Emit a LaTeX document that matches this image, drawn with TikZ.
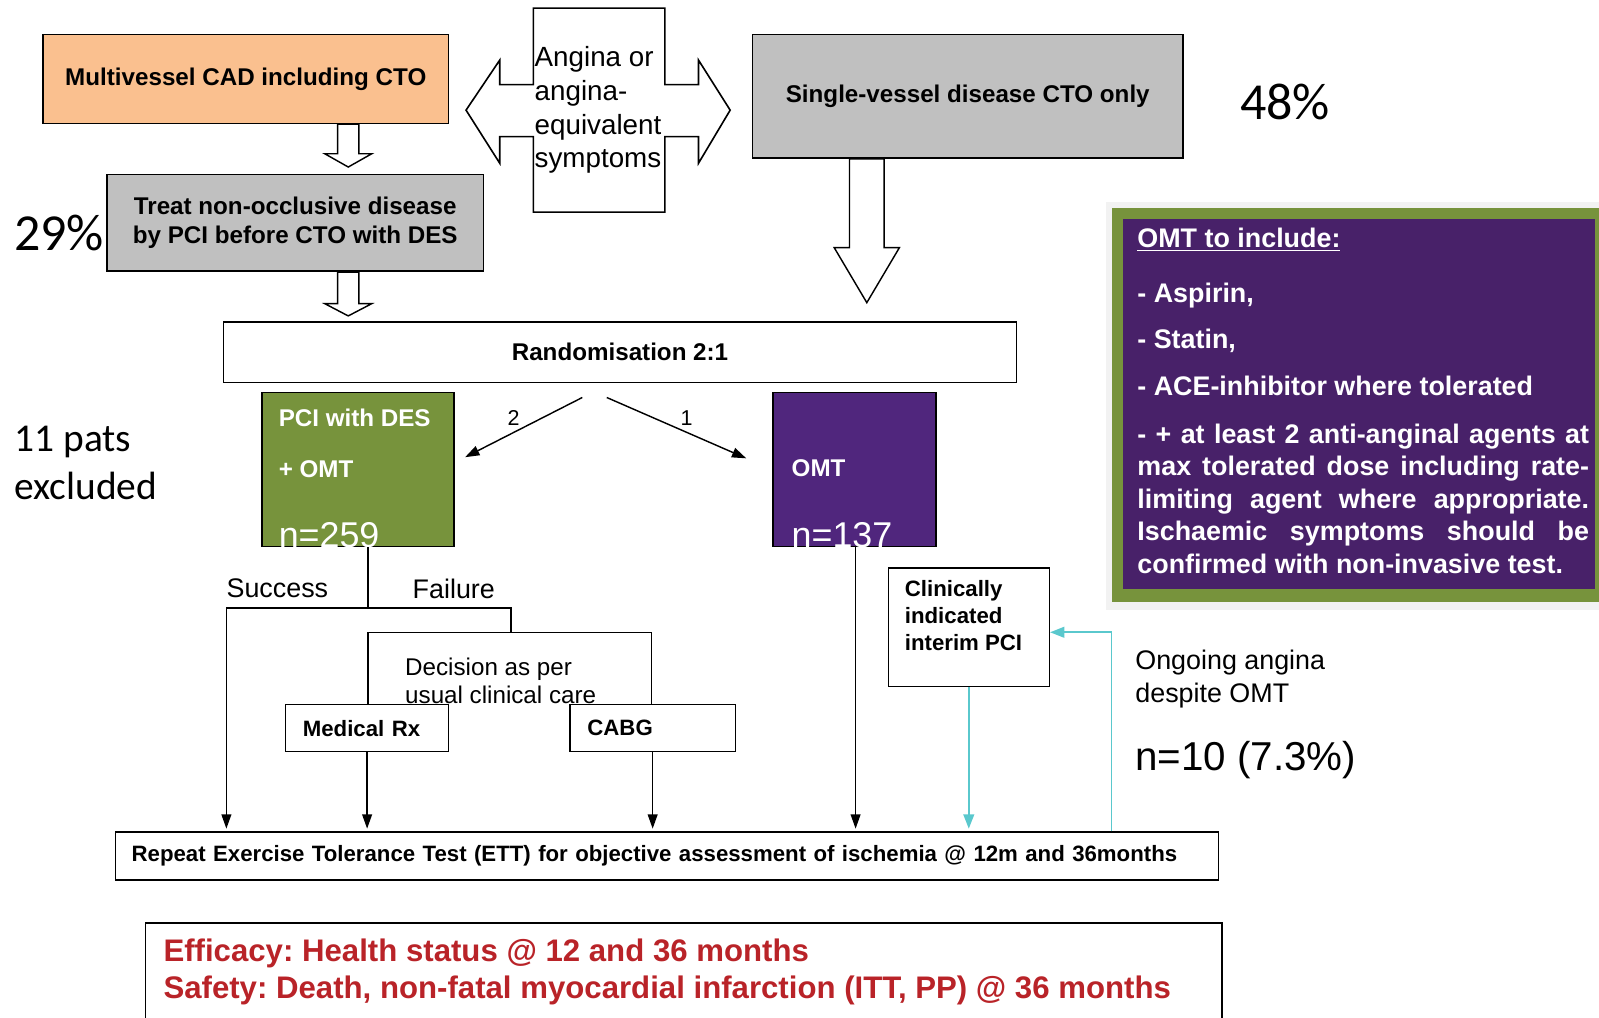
\documentclass[tikz,border=0pt]{standalone}
\usepackage{fontspec}
\setmainfont{Liberation Sans}
\newfontfamily\calfont{Carlito}
\frenchspacing
\definecolor{peach}{RGB}{250,192,143}
\definecolor{boxgray}{RGB}{192,192,192}
\definecolor{olive}{RGB}{119,147,60}
\definecolor{omtpurple}{RGB}{80,38,125}
\definecolor{infopurple}{RGB}{72,33,105}
\definecolor{loopcyan}{RGB}{90,200,205}
\definecolor{outred}{RGB}{185,35,40}
\usetikzlibrary{arrows.meta,calc}

\begin{document}
\begin{tikzpicture}[x=0.02cm,y=-0.02cm,
    box/.style={draw,line width=0.9pt,inner sep=0pt,font=\bfseries\fontsize{13.5}{16}\selectfont},
    small/.style={draw,line width=0.8pt,inner xsep=0.34cm,inner ysep=0pt,align=left,font=\bfseries\fontsize{12.4}{15}\selectfont},
    plain/.style={inner sep=0pt,font=\fontsize{15}{18.2}\selectfont},
    big/.style={inner sep=0pt,font=\calfont\fontsize{29}{32}\selectfont},
    wtxt/.style={text=white,inner sep=0pt,anchor=base west},
    info/.style={text=white,inner sep=0pt,font=\bfseries\fontsize{15}{18.2}\selectfont},
    outtxt/.style={text=outred,inner sep=0pt,anchor=base west,font=\bfseries\fontsize{17.4}{20}\selectfont},
    lbl/.style={inner sep=1pt,font=\fontsize{12}{14}\selectfont},
    conn/.style={line width=0.8pt},
    arr/.style={line width=0.8pt,-{Triangle[width=5.5pt,length=8pt]},shorten >=1.5pt},
    loop/.style={loopcyan,line width=1pt,-{Triangle[width=6pt,length=8pt]}},
    hollow/.style={draw,line width=0.8pt,fill=white}]
\useasboundingbox (0,0) rectangle (1568,998);
\clip (0,0) rectangle (1568,998);

% top row
\node[box,fill=peach,minimum width=7.96cm,minimum height=1.74cm] (multi) at (241,77.5) {Multivessel CAD including CTO};
\node[box,fill=boxgray,minimum width=7.38cm,minimum height=1.9cm,align=center] (treat) at (289.5,218.5) {Treat non-occlusive disease\\by PCI before CTO with DES};
\node[box,fill=boxgray,minimum width=8.44cm,minimum height=2.42cm] (single) at (949,94.5) {Single-vessel disease CTO only};
\node[big] (pct29) at (58,228) {29\%};
\node[big] (pct48) at (1260,100) {48\%};

% symptoms box with double arrow
\draw[line width=0.9pt,fill=white] (523,8) -- (652,8) -- (652,83) -- (685,83) -- (685,59) -- (716,108) -- (685,160) -- (685,134) -- (652,134) -- (652,208) -- (523,208) -- (523,134) -- (490,134) -- (490,160) -- (457,108) -- (490,59) -- (490,83) -- (523,83) -- cycle;
\node[plain,anchor=west,align=left,font=\fontsize{15.5}{18.8}\selectfont] (angina) at (524,108) {Angina or\\angina-\\equivalent\\symptoms};

% block arrows
\coordinate (a1) at (341.5,0);
\coordinate (a3) at (850,0);
\draw[hollow] (multi.south -| a1) ++(-10.5,0) -- ++(0,29) -- ++(-12.5,0) -- ++(23,13) -- ++(23,-13) -- ++(-12.5,0) -- ++(0,-29) -- cycle;
\draw[hollow] (treat.south -| a1) ++(-10.5,0) -- ++(0,31) -- ++(-12.5,0) -- ++(23,12) -- ++(23,-12) -- ++(-12.5,0) -- ++(0,-31) -- cycle;
\draw[hollow] (single.south -| a3) ++(-17,0) -- ++(0,87) -- ++(-15,0) -- ++(32,54) -- ++(32,-54) -- ++(-15,0) -- ++(0,-87) -- cycle;

% randomisation
\node[box,minimum width=15.56cm,minimum height=1.18cm] (rand) at (608,345.5) {Randomisation 2:1};
\node[box,fill=olive,minimum width=3.76cm,minimum height=3.02cm] (pci) at (351,460.5) {};
\node[box,fill=omtpurple,minimum width=3.2cm,minimum height=3.02cm] (omt) at (838,460.5) {};
\node[wtxt,font=\bfseries\fontsize{13.5}{16}\selectfont] (pcitxt) at (273,418.5) {PCI with DES};
\node[wtxt,font=\bfseries\fontsize{13.5}{16}\selectfont] (pciomt) at (273,468.5) {+ OMT};
\node[wtxt,font=\fontsize{20}{24}\selectfont] (pcin) at (273,537) {n=259};
\node[wtxt,font=\bfseries\fontsize{13.5}{16}\selectfont] (omttxt) at (776,467.5) {OMT};
\node[wtxt,font=\fontsize{20}{24}\selectfont] (omtn) at (776,537) {n=137};
\draw[arr] ($(rand.south)+(-37,14)$) -- node[lbl,midway,above,xshift=-5pt] {2} ($(pci.east)+(8,-11)$);
\draw[arr] ($(rand.south)+(-13,14)$) -- node[lbl,midway,above,xshift=5pt] {1} ($(omt.west)+(-23,-10)$);
\node[big,anchor=west,align=left,font=\calfont\fontsize{22}{27.3}\selectfont] (excl) at (14,454) {11 pats\\excluded};

% PCI arm
\node[small,text width=2.52cm,minimum height=0.92cm] (medrx) at (360,714) {Medical Rx};
\node[small,text width=2.56cm,minimum height=0.92cm] (cabg) at (640,714) {CABG};
\coordinate (split) at (361,596);
\coordinate (sx) at (222,596);
\coordinate (fx) at (501,596);
\coordinate (dl) at (361,620);
\coordinate (dr) at (639,620);
\draw[conn] (pci.south -| split) -- (split);
\draw[conn] (sx) -- (fx) -- (fx |- dl);
\draw[conn] (dl) -- (dr);
\draw[conn] (dl) -- (dl |- medrx.north);
\draw[conn] (dr) -- (dr |- cabg.north);
\node[plain] (succ) at (272,577) {Success};
\node[plain] (fail) at (445,577) {Failure};
\node[plain,anchor=west,align=left,font=\fontsize{13.5}{15.4}\selectfont] (decis) at (397,667.5) {Decision as per\\usual clinical care};

% OMT arm
\node[draw,line width=0.8pt,minimum width=3.16cm,minimum height=2.32cm,inner sep=0pt] (clin) at (950,615) {};
\node[inner sep=0pt,anchor=north west,align=left,font=\bfseries\fontsize{12.4}{15}\selectfont] (clintxt) at (887,569) {Clinically\\indicated\\interim PCI};
\node[plain,anchor=west,align=left] (ongo) at (1113,666) {Ongoing angina\\despite OMT};
\node[plain,anchor=west,font=\fontsize{22.5}{26}\selectfont] (n10) at (1113,745) {n=10 (7.3\%)};

% follow-up
\node[box,font=\bfseries\fontsize{12.4}{15}\selectfont,minimum height=0.94cm,text width=21.0cm,inner xsep=0.32cm,align=left] (ett) at (654,839.5) {Repeat Exercise Tolerance Test (ETT) for objective assessment of ischemia @ 12m and 36months};
\draw[arr] (sx) -- (sx |- ett.north);
\draw[arr] (medrx.south) -- (medrx.south |- ett.north);
\draw[arr] (cabg.south) -- (cabg.south |- ett.north);
\draw[arr] (omt.south -| 839,0) -- (ett.north -| 839,0);
\draw[loop,shorten >=1.5pt] (clin.south) -- (clin.south |- ett.north);
\coordinate (back) at (1090,620);
\draw[loop] (ett.north -| back) -- (back) -- (back -| clin.east);

% OMT details
\fill[black!5] (1085,198) rectangle (1600,598);
\fill[olive] (1090,204) rectangle (1600,590);
\fill[infopurple] (1101,215) rectangle (1564,578);
\node[info,anchor=base west] (inc) at (1115,242.5) {\underline{OMT to include:}};
\node[info,anchor=base west] (asp) at (1115,296.5) {- Aspirin,};
\node[info,anchor=base west] (stat) at (1115,341.5) {- Statin,};
\node[info,anchor=base west] (ace) at (1115,387.5) {- ACE-inhibitor where tolerated};
\node[info,anchor=north west,text width=8.86cm,align=justify] (agents) at (1115,415) {\tolerance=10000\hyphenpenalty=10000 - + at least 2 anti-anginal agents at\linebreak max tolerated dose including rate-\linebreak limiting agent where appropriate.\linebreak Ischaemic symptoms should be\linebreak confirmed with non-invasive test.};

% outcomes
\node[draw,line width=0.9pt,anchor=north west,minimum width=21.12cm,minimum height=2.2cm,inner sep=0pt] (outc) at (142,904) {};
\node[outtxt] (eff) at (160,943) {Efficacy: Health status @ 12 and 36 months};
\node[outtxt] (saf) at (160,979) {Safety: Death, non-fatal myocardial infarction (ITT, PP) @ 36 months};
\end{tikzpicture}
\end{document}
